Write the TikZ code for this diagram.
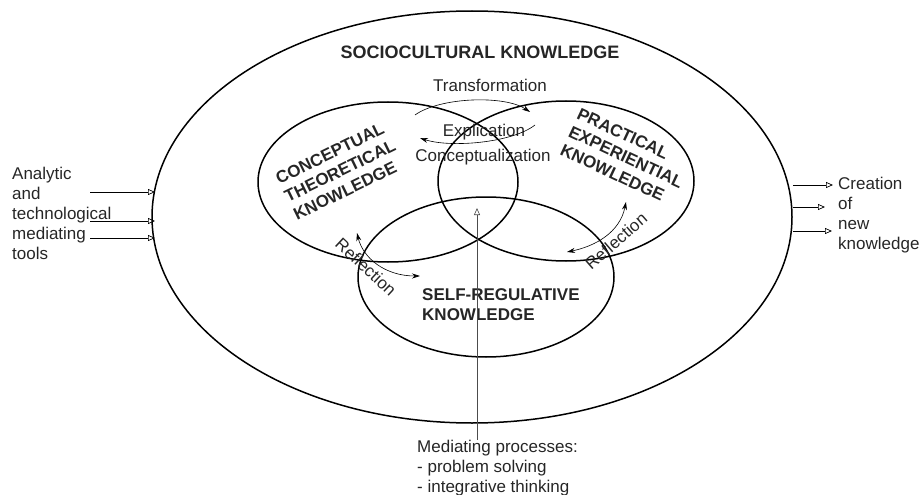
\documentclass[tikz,border=0pt]{standalone}
\usepackage{fontspec}
\setmainfont{Liberation Sans}
\usetikzlibrary{arrows.meta,shapes.geometric}
\tikzset{field/.style={ellipse,draw=black,line width=1.5pt,inner sep=0pt}}
\tikzset{capslabel/.style={font=\fontsize{17}{20}\selectfont\bfseries,align=left,inner sep=0pt,text=black!85}}
\tikzset{plainlabel/.style={font=\fontsize{17}{20}\selectfont,align=left,inner sep=0pt,text=black!85}}
\tikzset{toolArrow/.style={-{Triangle[open,length=7pt,width=6pt]},line width=0.7pt}}
\tikzset{loopArrow/.style={-{Stealth[length=8pt,width=5pt]},line width=0.6pt}}
\tikzset{bothArrow/.style={{Stealth[length=8pt,width=5pt]}-{Stealth[length=8pt,width=5pt]},line width=0.6pt}}

\begin{document}
\begin{tikzpicture}[x=1pt,y=-1pt]
\useasboundingbox (0,0) rectangle (922,495);
% the four fields of knowledge
\node (socio) [field, minimum width=640pt, minimum height=412pt] at (472,217) {};
\node (concept) [field, minimum width=260pt, minimum height=160pt] at (388,182) {};
\node (practice) [field, minimum width=256pt, minimum height=160pt] at (566,181) {};
\node (selfreg) [field, minimum width=256pt, minimum height=160pt] at (486,277) {};

\node (sociotitle) [capslabel, font=\fontsize{18}{20}\selectfont\bfseries] at (480,52) {SOCIOCULTURAL KNOWLEDGE};
\node (concepttext) [capslabel, rotate=26] at (340,171) {CONCEPTUAL\\THEORETICAL\\KNOWLEDGE};
\node (practicetext) [capslabel, rotate=-25] at (626,157) {PRACTICAL\\EXPERIENTIAL\\KNOWLEDGE};
\node (selfregtext) [capslabel, anchor=west] at (422,305) {SELF-REGULATIVE\\KNOWLEDGE};

% processes between the fields
\node (transform) [plainlabel] at (490,85) {Transformation};
\node (explic) [plainlabel] at (484,132) {Explication};
\node (conceptual) [plainlabel] at (483,157) {Conceptualization};
\node (reflectL) [plainlabel, rotate=-43] at (366,267) {Reflection};
\node (reflectR) [plainlabel, rotate=41] at (616,241) {Reflection};

\coordinate (trA) at (415,115);
\coordinate (trB) at (530,112);
\coordinate (exA) at (535,125);
\coordinate (exB) at (420,138);
\draw [loopArrow] (trA) .. controls (440,97) and (505,95) .. (trB);
\draw [loopArrow] (exA) .. controls (512,143) and (450,148) .. (exB);

\coordinate (rfLa) at (357,233);
\coordinate (rfLb) at (420,276);
\coordinate (rfRa) at (626,202);
\coordinate (rfRb) at (567,252);
\draw [bothArrow] (rfLa) .. controls (363,258) and (385,276) .. (rfLb);
\draw [bothArrow] (rfRa) .. controls (620,232) and (596,246) .. (rfRb);

% mediating tools and processes
\node (tools) [plainlabel, anchor=west] at (12,213) {Analytic\\and\\technological\\mediating\\tools};
\node (creation) [plainlabel, anchor=west] at (838,215) {Creation\\of\\new\\knowledge};
\node (mediating) [plainlabel, anchor=west] at (417,468) {Mediating processes:\\- problem solving\\- integrative thinking};

\coordinate (medtip) at (477,208);
\draw [toolArrow, draw=black!70, line width=0.6pt] (mediating.north -| medtip) -- (medtip);

\foreach \y in {192,221,238}
  \draw [toolArrow] (90,\y) coordinate (in\y) -- (155,\y) coordinate (at\y);
\coordinate (out1) at (833,185);
\coordinate (out2) at (825,207);
\coordinate (out3) at (832,231);
\draw [toolArrow] (out1 -| socio.east) -- (out1);
\draw [toolArrow] (out2 -| socio.east) -- (out2);
\draw [toolArrow] (out3 -| socio.east) -- (out3);
\end{tikzpicture}
\end{document}
